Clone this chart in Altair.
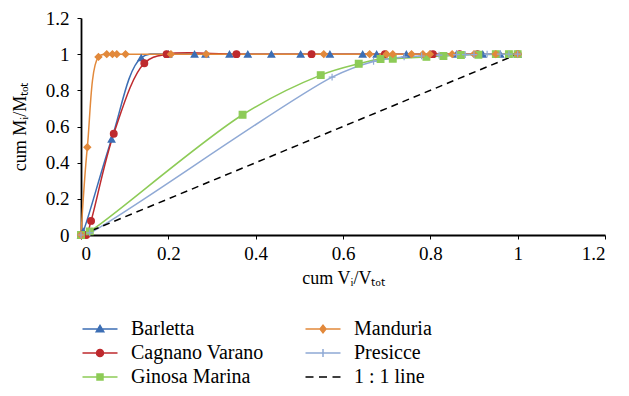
import altair as alt
import pandas as pd

# ---- data ----
barletta_x = [0, 0.005, 0.07, 0.138, 0.2, 0.26, 0.285, 0.34, 0.382, 0.436, 0.503, 0.57, 0.645, 0.677, 0.745, 0.8, 0.86, 0.92, 0.96, 1.0]
barletta_y = [0, 0.02, 0.53, 0.98, 1.0, 1.0, 1.0, 1.0, 1.0, 1.0, 1.0, 1.0, 1.0, 1.0, 1.0, 1.0, 1.0, 1.0, 1.0, 1.0]

cagnano_x = [0, 0.012, 0.023, 0.075, 0.145, 0.196, 0.356, 0.528, 0.696, 0.806, 0.867, 0.908, 1.0]
cagnano_y = [0, 0.0, 0.078, 0.56, 0.95, 1.0, 1.0, 1.0, 1.0, 1.0, 1.0, 1.0, 1.0]

ginosa_x = [0, 0.02, 0.37, 0.549, 0.636, 0.686, 0.714, 0.791, 0.83, 0.87, 0.91, 0.95, 0.98, 1.0]
ginosa_y = [0, 0.02, 0.665, 0.884, 0.947, 0.973, 0.975, 0.985, 0.99, 0.995, 0.997, 1.0, 1.0, 1.0]

manduria_x = [0, 0.0145, 0.04, 0.059, 0.072, 0.082, 0.102, 0.206, 0.287, 0.556, 0.661, 0.70, 0.714, 0.757, 0.783, 0.799, 0.85, 0.9, 0.95, 1.0]
manduria_y = [0, 0.485, 0.985, 1.0, 1.0, 1.0, 1.0, 1.0, 1.0, 1.0, 1.0, 1.0, 1.0, 1.0, 1.0, 1.0, 1.0, 1.0, 1.0, 1.0]

presicce_x = [0, 0.02, 0.575, 0.67, 0.74, 0.78, 0.82, 0.86, 0.88, 0.9, 0.93, 0.96, 0.98, 1.0]
presicce_y = [0, 0.012, 0.873, 0.96, 0.985, 0.99, 0.995, 0.997, 0.998, 0.998, 1.0, 1.0, 1.0, 1.0]

identity_x = [0, 1]
identity_y = [0, 1]

tick_values = [0, 0.2, 0.4, 0.6, 0.8, 1, 1.2]

series_data = [
    ("Barletta", barletta_x, barletta_y),
    ("Cagnano Varano", cagnano_x, cagnano_y),
    ("Ginosa Marina", ginosa_x, ginosa_y),
    ("Manduria", manduria_x, manduria_y),
    ("Presicce", presicce_x, presicce_y),
]

rows = []
for name, xs, ys in series_data:
    for xv, yv in zip(xs, ys):
        rows.append({"series": name, "x": xv, "y": yv})
df = pd.DataFrame(rows)
ident_df = pd.DataFrame({"x": identity_x, "y": identity_y})
leg_df = pd.DataFrame({"series": ["Barletta"]})

# legend order (column-major for 2 columns)
domain = ["Barletta", "Cagnano Varano", "Ginosa Marina", "Manduria", "Presicce", "1 : 1 line"]
colors = ["#3C6EB4", "#BE2A2E", "#8DCB57", "#E2893B", "#8FA9D5", "#000000"]

shapes_pts = [
    "triangle-up",
    "circle",
    "square",
    "diamond",
    "M-1,0H1M0,-1V1",
    "circle",
]
line_part = "M-3.5,0H3.5"
shapes_leg = [
    line_part + "M0,-0.7L0.75,0.55H-0.75Z",
    line_part + "M-0.7,0A0.7,0.7 0 1,0 0.7,0A0.7,0.7 0 1,0 -0.7,0Z",
    line_part + "M-0.6,-0.6H0.6V0.6H-0.6Z",
    line_part + "M0,-0.75L0.6,0L0,0.75L-0.6,0Z",
    line_part + "M0,-0.8V0.8",
    "M-3.5,0H-1.9M-0.8,0H0.8M1.9,0H3.5",
]

FONT = "Liberation Serif"


def xenc():
    return alt.X("x:Q", scale=alt.Scale(domain=[0, 1.2], nice=False),
                 axis=alt.Axis(values=tick_values, format="~g", title="cum Vᵢ/Vₜₒₜ",
                               labelPadding=5, titlePadding=6))


def yenc():
    return alt.Y("y:Q", scale=alt.Scale(domain=[0, 1.2], nice=False),
                 axis=alt.Axis(values=tick_values, format="~g", title="cum Mᵢ/Mₜₒₜ",
                               labelPadding=8, titlePadding=16))


lines = alt.Chart(df).mark_line(interpolate="catmull-rom", strokeWidth=1.5).encode(
    x=xenc(), y=yenc(),
    color=alt.Color("series:N", scale=alt.Scale(domain=domain, range=colors), legend=None),
)

ident = alt.Chart(ident_df).mark_line(color="black", strokeDash=[7, 5], strokeWidth=1.5).encode(
    x=xenc(), y=yenc()
)

points = alt.Chart(df).mark_point(filled=True, size=45, strokeWidth=1.2, opacity=1).encode(
    x=xenc(), y=yenc(),
    shape=alt.Shape("series:N", scale=alt.Scale(domain=domain, range=shapes_pts), legend=None),
    fill=alt.Fill("series:N", scale=alt.Scale(domain=domain, range=colors), legend=None),
    stroke=alt.Stroke("series:N", scale=alt.Scale(domain=domain, range=colors), legend=None),
)

leg = alt.Legend(
    title=None, orient="none", legendX=9, legendY=301, columns=2,
    columnPadding=38, rowPadding=4, labelFont=FONT, labelFontSize=20,
    labelColor="black", labelOffset=21, symbolSize=100, symbolStrokeWidth=1.5,
    symbolLimit=0,
)

legend_layer = alt.Chart(leg_df).mark_point(filled=True, size=100, strokeWidth=1.5, opacity=1).encode(
    shape=alt.Shape("series:N", scale=alt.Scale(domain=domain, range=shapes_leg), legend=leg),
    fill=alt.Fill("series:N", scale=alt.Scale(domain=domain, range=colors), legend=leg),
    stroke=alt.Stroke("series:N", scale=alt.Scale(domain=domain, range=colors), legend=leg),
).transform_filter("false")

chart = alt.layer(lines, ident, points, legend_layer).resolve_scale(
    shape="independent", fill="independent", stroke="independent"
).properties(
    width=524, height=217,
    autosize=alt.AutoSizeParams(type="none"),
    padding={"left": 73, "top": 10, "right": 16, "bottom": 153},
    background="white",
).configure_view(stroke=None).configure_axis(
    grid=False, domainColor="black", domainWidth=1.8, tickColor="black",
    tickSize=4, tickWidth=1, labelFont=FONT, labelFontSize=19, labelColor="black",
    titleFont=FONT, titleFontSize=18, titleFontWeight="normal", titleColor="black",
    labelOverlap=False,
)

chart.save("out.html", embed_options={"renderer": "svg", "actions": False})
